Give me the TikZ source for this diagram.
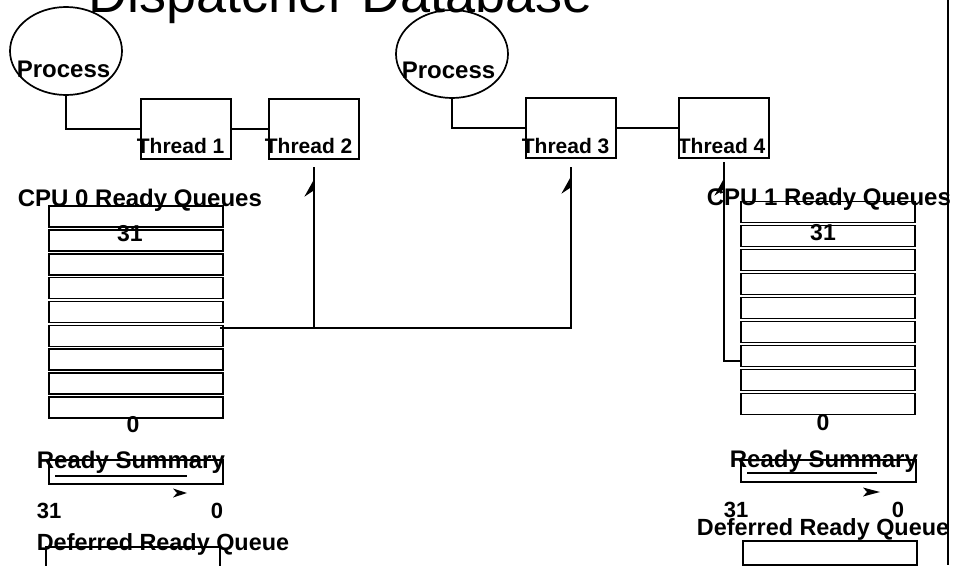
\documentclass[tikz,border=0pt]{standalone}
\usepackage{fontspec}
\setmainfont{Liberation Sans}
\usetikzlibrary{arrows.meta,decorations.markings,shapes.geometric}
\tikzset{
  lbl/.style={font=\fontsize{24}{28}\selectfont\bfseries, anchor=base west, inner sep=0pt},
  dlbl/.style={font=\fontsize{23.4}{28}\selectfont\bfseries, anchor=base west, inner sep=0pt},
  thr/.style={font=\fontsize{21}{24}\selectfont\bfseries, anchor=base west, inner sep=0pt},
  num/.style={font=\fontsize{23}{26}\selectfont\bfseries, anchor=base, inner sep=0pt},
  numw/.style={font=\fontsize{22}{24}\selectfont\bfseries, anchor=base west, inner sep=0pt},
  qrow/.style={draw, minimum width=174pt, minimum height=21pt, inner sep=0pt, anchor=north west},
  tbox/.style={draw, minimum width=90pt, minimum height=60pt, inner sep=0pt, anchor=north west},
  proc/.style={draw, ellipse, minimum width=112pt, minimum height=88pt, inner sep=0pt},
  harp/.style={postaction={decorate}, decoration={markings,
     mark=at position -#1pt with {\fill (0pt,0pt) -- (-17pt,9.5pt) -- (-11pt,0.5pt) -- (-11pt,0pt) -- cycle;}}},
}
\begin{document}
\begin{tikzpicture}[x=1pt,y=-1pt,line width=1.7pt]
\useasboundingbox (0,0) rectangle (953,565);
% title
\node[font=\fontsize{54}{60}\selectfont, anchor=base west, inner sep=0pt] (title) at (88,12) {Dispatcher Database};
% right border
\draw (948,0) coordinate (rb1) -- (948,565) coordinate (rb2);
% processes
\node[proc] (p1) at (66,51) {};
\node[lbl] (p1t) at (16,77) {Process};
\node[proc] (p2) at (452,54) {};
\node[lbl] (p2t) at (401,78) {Process};
% threads
\node[tbox] (t1) at (140,98) {};
\node[tbox] (t2) at (268,98) {};
\node[tbox] (t3) at (525,97) {};
\node[tbox] (t4) at (678,97) {};
\node[thr] (t1t) at (136,153) {Thread 1};
\node[thr] (t2t) at (264,153) {Thread 2};
\node[thr] (t3t) at (521,153) {Thread 3};
\node[thr] (t4t) at (677,153) {Thread 4};
\draw (p1.south) |- (t1.west);
\draw (t1.east) -- (t2.west);
\draw (p2.south) |- (t3.west);
\draw (t3.east) -- (t4.west);
% CPU 0 queues
\foreach \i in {0,...,8} {
  \node[qrow] (qa\i) at (48,{205+23.9*\i}) {};
}
\node[lbl] (cpu0) at (17,206) {CPU 0 Ready Queues};
\node[num] (qa31) at (130,241) {31};
\node[num] (qa0) at (133,432) {0};
% CPU 1 queues
\foreach \i in {0,...,8} {
  \node[qrow] (qb\i) at (740,{200.7+24*\i}) {};
}
\node[lbl] (cpu1) at (706,205) {CPU 1 Ready Queues};
\node[num] (qb31) at (823,240) {31};
\node[num] (qb0) at (823,430) {0};
% connectors from queues to threads
\coordinate (j0) at (220,328);
\coordinate (j1) at (740,361);
\draw[harp=13] (j0) -| ([yshift=-7pt]t2.south);
\draw[harp=10] (j0) -| ([yshift=-8pt]t3.south);
\draw[harp=17] (j1) -| ([yshift=-3pt]t4.south);
% ready summary CPU 0
\node[draw, minimum width=174pt, minimum height=24pt, inner sep=0pt, anchor=north west] (rs0) at (48,459) {};
\draw (55,476) coordinate (rs0a) -- (187,476) coordinate (rs0b);
\node[lbl] (rs0t) at (36,468) {Ready Summary};
\fill (173,488.5) -- (187,493) -- (173,497.5) -- (177,493) -- cycle;
\node[numw] (rs0n31) at (36,518) {31};
\node[numw] (rs0n0) at (210,518) {0};
\draw (46,566) -- (46,547) -- (220,547) -- (220,566);
\node[dlbl] (dq0) at (36,550) {Deferred Ready Queue};
% ready summary CPU 1
\node[draw, minimum width=175pt, minimum height=22pt, inner sep=0pt, anchor=north west] (rs1) at (740,459) {};
\draw (747,473) coordinate (rs1a) -- (877,473) coordinate (rs1b);
\node[lbl] (rs1t) at (729,467) {Ready Summary};
\fill (863,487.5) -- (880,492) -- (863,496.5) -- (867,492) -- cycle;
\node[numw] (rs1n31) at (723,517) {31};
\node[numw] (rs1n0) at (891,517) {0};
\node[dlbl] (dq1) at (696,535) {Deferred Ready Queue};
\node[draw, minimum width=174pt, minimum height=24pt, inner sep=0pt, anchor=north west] (dqb1) at (742,540) {};
\end{tikzpicture}
\end{document}
